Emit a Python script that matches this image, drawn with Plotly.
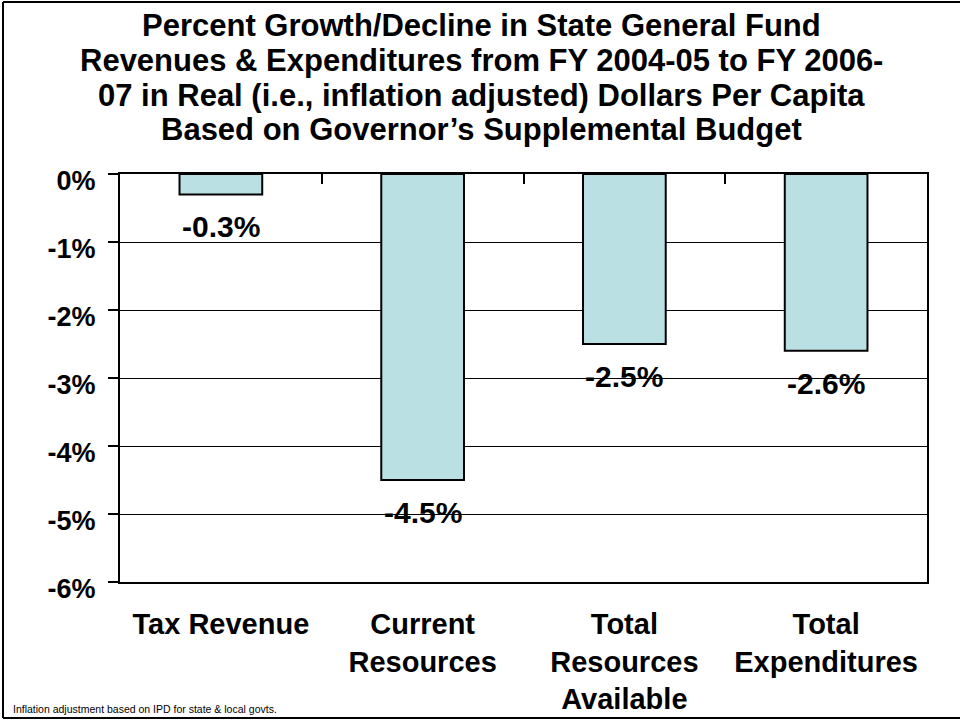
import plotly.graph_objects as go

categories = ["Tax Revenue", "Current<br>Resources", "Total<br>Resources<br>Available", "Total<br>Expenditures"]
values = [-0.3, -4.5, -2.5, -2.6]
value_labels = ["-0.3%", "-4.5%", "-2.5%", "-2.6%"]
y_tickvals = [0, -1, -2, -3, -4, -5, -6]
y_ticktext = ["0%", "-1%", "-2%", "-3%", "-4%", "-5%", "-6%"]
title_lines = [
    "Percent Growth/Decline in State General Fund",
    "Revenues & Expenditures from FY 2004-05 to FY 2006-",
    "07 in Real (i.e., inflation adjusted) Dollars Per Capita",
    "Based on Governor\u2019s Supplemental Budget",
]
footnote = "Inflation adjustment based on IPD for state & local govts."

FONT = "Liberation Sans, Arial, sans-serif"
W, H = 960, 721
ML, MR, MT, MB = 120, 33, 174, 139
PW, PH = W - ML - MR, H - MT - MB


def px_x(px):
    return (px - ML) / PW


def px_y(py):
    return (MT + PH - py) / PH


fig = go.Figure()
fig.add_trace(go.Bar(
    x=categories, y=values,
    marker=dict(color="#BBE0E3", line=dict(color="black", width=2)),
    showlegend=False, hoverinfo="skip",
))
# invisible helper trace for the top category axis (ticks at boundaries)
fig.add_trace(go.Scatter(x=[0, len(categories) - 1], y=[0, 0], xaxis="x2", yaxis="y",
                         mode="markers", marker=dict(opacity=0), showlegend=False, hoverinfo="skip"))

for c, v, t in zip(categories, values, value_labels):
    fig.add_annotation(x=c, y=v, xref="x", yref="y", text=t, showarrow=False,
                       yanchor="top", yshift=-14,
                       font=dict(family=FONT, size=30, color="black", weight="bold"))

# title lines
for i, line in enumerate(title_lines):
    fig.add_annotation(xref="paper", yref="paper", x=px_x(481), y=px_y(25 + 35 * i),
                       xanchor="center", yanchor="middle", text=line, showarrow=False,
                       font=dict(family=FONT, size=31, color="black", weight="bold"))

fig.add_annotation(xref="paper", yref="paper", x=px_x(11), y=px_y(H - 4),
                   xanchor="left", yanchor="bottom", text=footnote, showarrow=False,
                   font=dict(family=FONT, size=10.5, color="black"))

# outer frame lines (left, top, bottom)
frame = [((3, 2), (3, H - 3)), ((3, 2), (W, 2)), ((3, H - 3), (W, H - 3))]
for (x0, y0), (x1, y1) in frame:
    fig.add_shape(type="line", xref="paper", yref="paper",
                  x0=px_x(x0), x1=px_x(x1), y0=px_y(y0), y1=px_y(y1),
                  line=dict(color="black", width=2), layer="below")

fig.update_layout(
    width=W, height=H,
    margin=dict(l=ML, r=MR, t=MT, b=MB, pad=0, autoexpand=False),
    paper_bgcolor="white", plot_bgcolor="white",
    bargap=0.59,
    xaxis=dict(type="category", showgrid=False, showline=True, linecolor="black", linewidth=2,
               ticks="", ticklabelstandoff=15,
               tickfont=dict(family=FONT, size=29, color="black", weight="bold")),
    xaxis2=dict(overlaying="x", side="top", range=[-0.5, len(categories) - 0.5],
                tickvals=[0.5, 1.5, 2.5], ticks="inside", ticklen=10, tickwidth=2, tickcolor="black",
                showticklabels=False, showgrid=False, showline=True, linecolor="black", linewidth=2,
                zeroline=False),
    yaxis=dict(range=[-6, 0], tickvals=y_tickvals, ticktext=y_ticktext,
               ticks="outside", ticklen=10, tickwidth=2, tickcolor="black",
               showline=True, linecolor="black", linewidth=2, mirror=True,
               showgrid=True, gridcolor="black", gridwidth=1, zeroline=False,
               ticklabelstandoff=7, ticklabelshift=7,
               tickfont=dict(family=FONT, size=27, color="black", weight="bold")),
)

fig.write_html("out.html", config={"displayModeBar": False},
               post_script="document.body.style.margin='0';document.body.style.overflow='hidden';")
